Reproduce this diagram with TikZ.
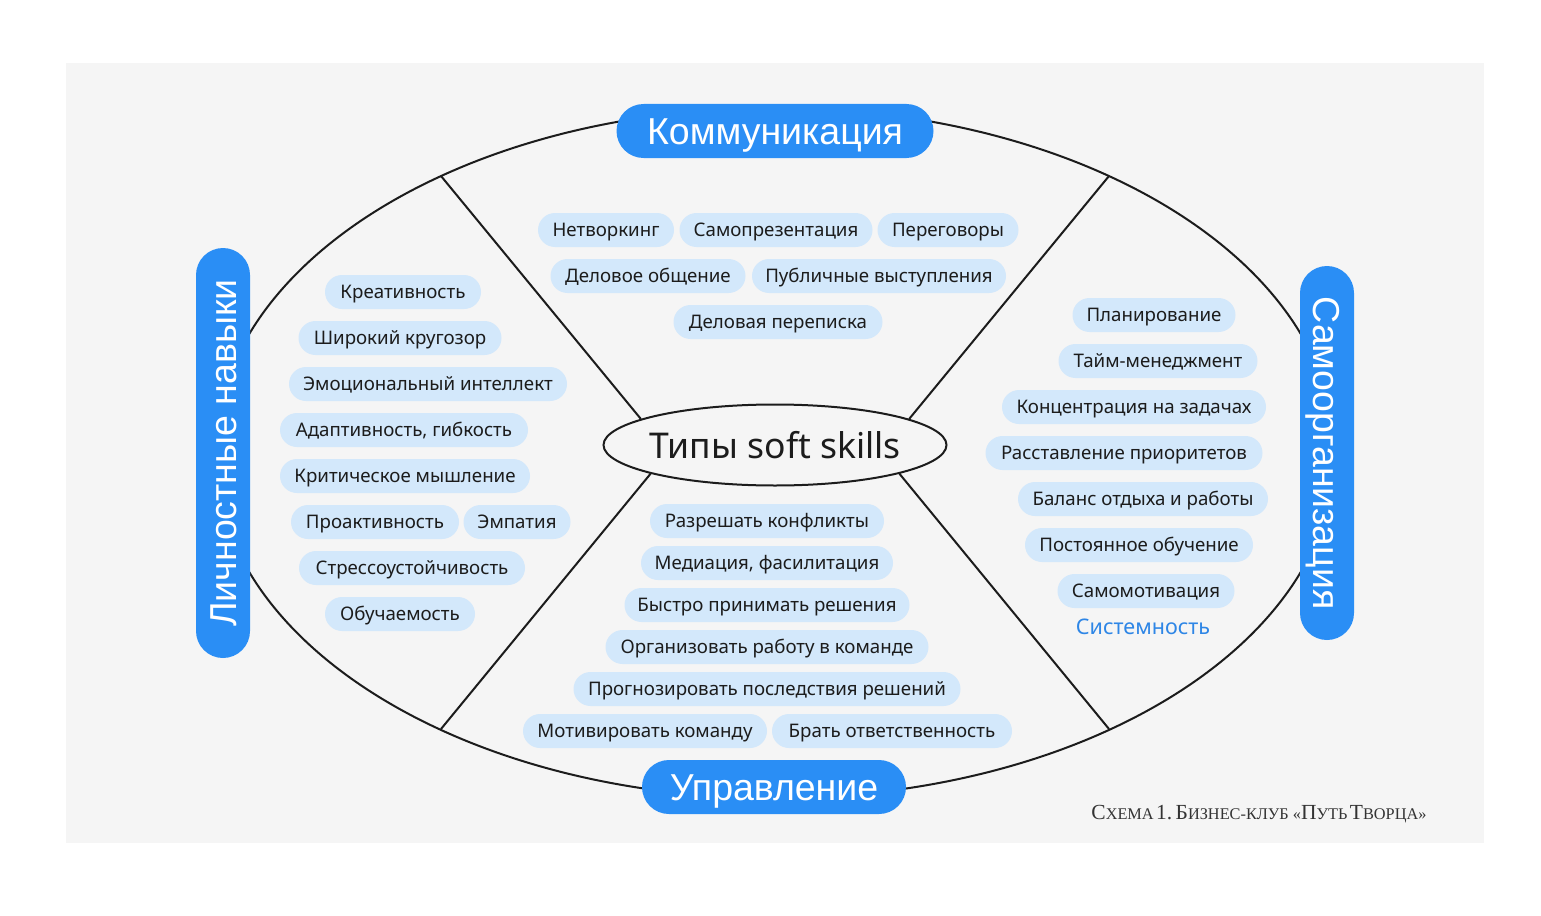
\documentclass[tikz,border=0pt]{standalone}
\usepackage{fontspec}
\setmainfont{Noto Sans}
\newfontfamily\headfont{Liberation Sans}
\newfontfamily\capsfont{Liberation Serif}
\usepackage{tikz}
\usetikzlibrary{shapes}
\definecolor{pillblue}{HTML}{D3E8FB}
\definecolor{headblue}{HTML}{2A8EF5}
\definecolor{textblue}{HTML}{2E86E6}
\definecolor{panelgray}{HTML}{F5F5F5}
\definecolor{inkdark}{HTML}{1C1C1C}
\newcommand{\capbig}[1]{{\fontsize{21.5}{23}\selectfont #1}}
\newcommand{\capsmall}[1]{{\fontsize{16.3}{18}\selectfont #1}}
\tikzstyle{skill}=[rectangle,rounded corners=17pt,fill=pillblue,minimum height=34pt,inner xsep=6pt,inner ysep=0pt,text height=13.3pt,text depth=0pt,text=inkdark,font=\fontsize{18.7}{20}\selectfont]
\tikzstyle{heading}=[rectangle,rounded corners=27pt,fill=headblue,minimum height=54pt,inner xsep=8pt,inner ysep=0pt,text height=26.5pt,text depth=0pt,text=white,font=\headfont\fontsize{37.5}{40}\selectfont]
\tikzstyle{spoke}=[draw,line width=2pt,inkdark]

\begin{document}
\begin{tikzpicture}[x=1pt,y=-1pt]
    \fill[white] (0,0) rectangle (1541,915);
    \useasboundingbox (0,0) rectangle (1541,915);
    \fill[panelgray] (66,63) rectangle (1484,843);

    % The big oval and the centre
    \draw[spoke] (775,453) ellipse [x radius=560pt, y radius=345pt];
    \node[ellipse,draw,line width=2pt,inkdark,fill=panelgray,minimum width=343pt,minimum height=81pt,inner sep=0pt,text=inkdark,font=\fontsize{35.5}{40}\selectfont] (types) at (775,445) {\makebox[220pt]{Типы soft skills}};

    % Spokes from the centre to the oval
    \coordinate (tl) at (441,176);
    \coordinate (tr) at (1109,176);
    \coordinate (bl) at (441,729);
    \coordinate (br) at (1109,729);
    \path[spoke] (types.169) -- (tl);
    \path[spoke] (types.11) -- (tr);
    \path[spoke] (types.193) -- (bl);
    \path[spoke] (types.347) -- (br);

    % Skills of each group
    \foreach \pos/\name/\w/\lbl in {{(606,230)/k1/136/Нетворкинг}, {(776,230)/k2/193/Самопрезентация}, {(948,230)/k3/141/Переговоры}, {(648,276)/k4/195/Деловое общение}, {(879,276)/k5/254/Публичные выступления}, {(778,322)/k6/209/Деловая переписка}}
        \node[skill,minimum width=\w pt] (\name) at \pos {\lbl};

    \foreach \pos/\name/\w/\lbl in {{(403,292)/l1/156/Креативность}, {(400,338)/l2/203/Широкий кругозор}, {(428,384)/l3/278/Эмоциональный интеллект}, {(404,430)/l4/248/{Адаптивность, гибкость}}, {(405,476)/l5/250/Критическое мышление}, {(375,522)/l6/168/Проактивность}, {(517,522)/l7/107/Эмпатия}, {(412,568)/l8/226/Стрессоустойчивость}, {(400,614)/l9/150/Обучаемость}}
        \node[skill,minimum width=\w pt] (\name) at \pos {\lbl};

    \foreach \pos/\name/\w/\lbl in {{(1154,315)/s1/163/Планирование}, {(1158,361)/s2/199/Тайм-менеджмент}, {(1134,407)/s3/264/Концентрация на задачах}, {(1124,453)/s4/277/Расставление приоритетов}, {(1143,499)/s5/250/Баланс отдыха и работы}, {(1139,545)/s6/228/Постоянное обучение}, {(1146,591)/s7/177/Самомотивация}}
        \node[skill,minimum width=\w pt] (\name) at \pos {\lbl};
    \node[text=textblue,font=\fontsize{21.5}{23}\selectfont] (s8) at (1143,627) {Системность};

    \foreach \pos/\name/\w/\lbl in {{(767,521)/u1/234/Разрешать конфликты}, {(767,563)/u2/252/{Медиация, фасилитация}}, {(767,605)/u3/285/Быстро принимать решения}, {(767,647)/u4/323/Организовать работу в команде}, {(767,689)/u5/387/Прогнозировать последствия решений}, {(645,731)/u6/244/Мотивировать команду}, {(892,731)/u7/240/Брать ответственность}}
        \node[skill,minimum width=\w pt] (\name) at \pos {\lbl};

    % Group headings on the oval
    \foreach \pos/\name/\w/\rot/\lbl in {{(775,131)/comm/317/0/Коммуникация}, {(774,787)/upr/264/0/Управление}, {(223,453)/lich/410/90/Личностные навыки}, {(1327,453)/samo/374/-90/Самоорганизация}}
        \node[heading,minimum width=\w pt,rotate=\rot] (\name) at \pos {\lbl};

    \node[anchor=base east,text=inkdark!90,font=\capsfont] (caption) at (1430,819) {\capbig{С}\capsmall{ХЕМА} \capbig{1.} \capbig{Б}\capsmall{ИЗНЕС-КЛУБ «}\capbig{П}\capsmall{УТЬ} \capbig{Т}\capsmall{ВОРЦА»}};
\end{tikzpicture}
\end{document}
